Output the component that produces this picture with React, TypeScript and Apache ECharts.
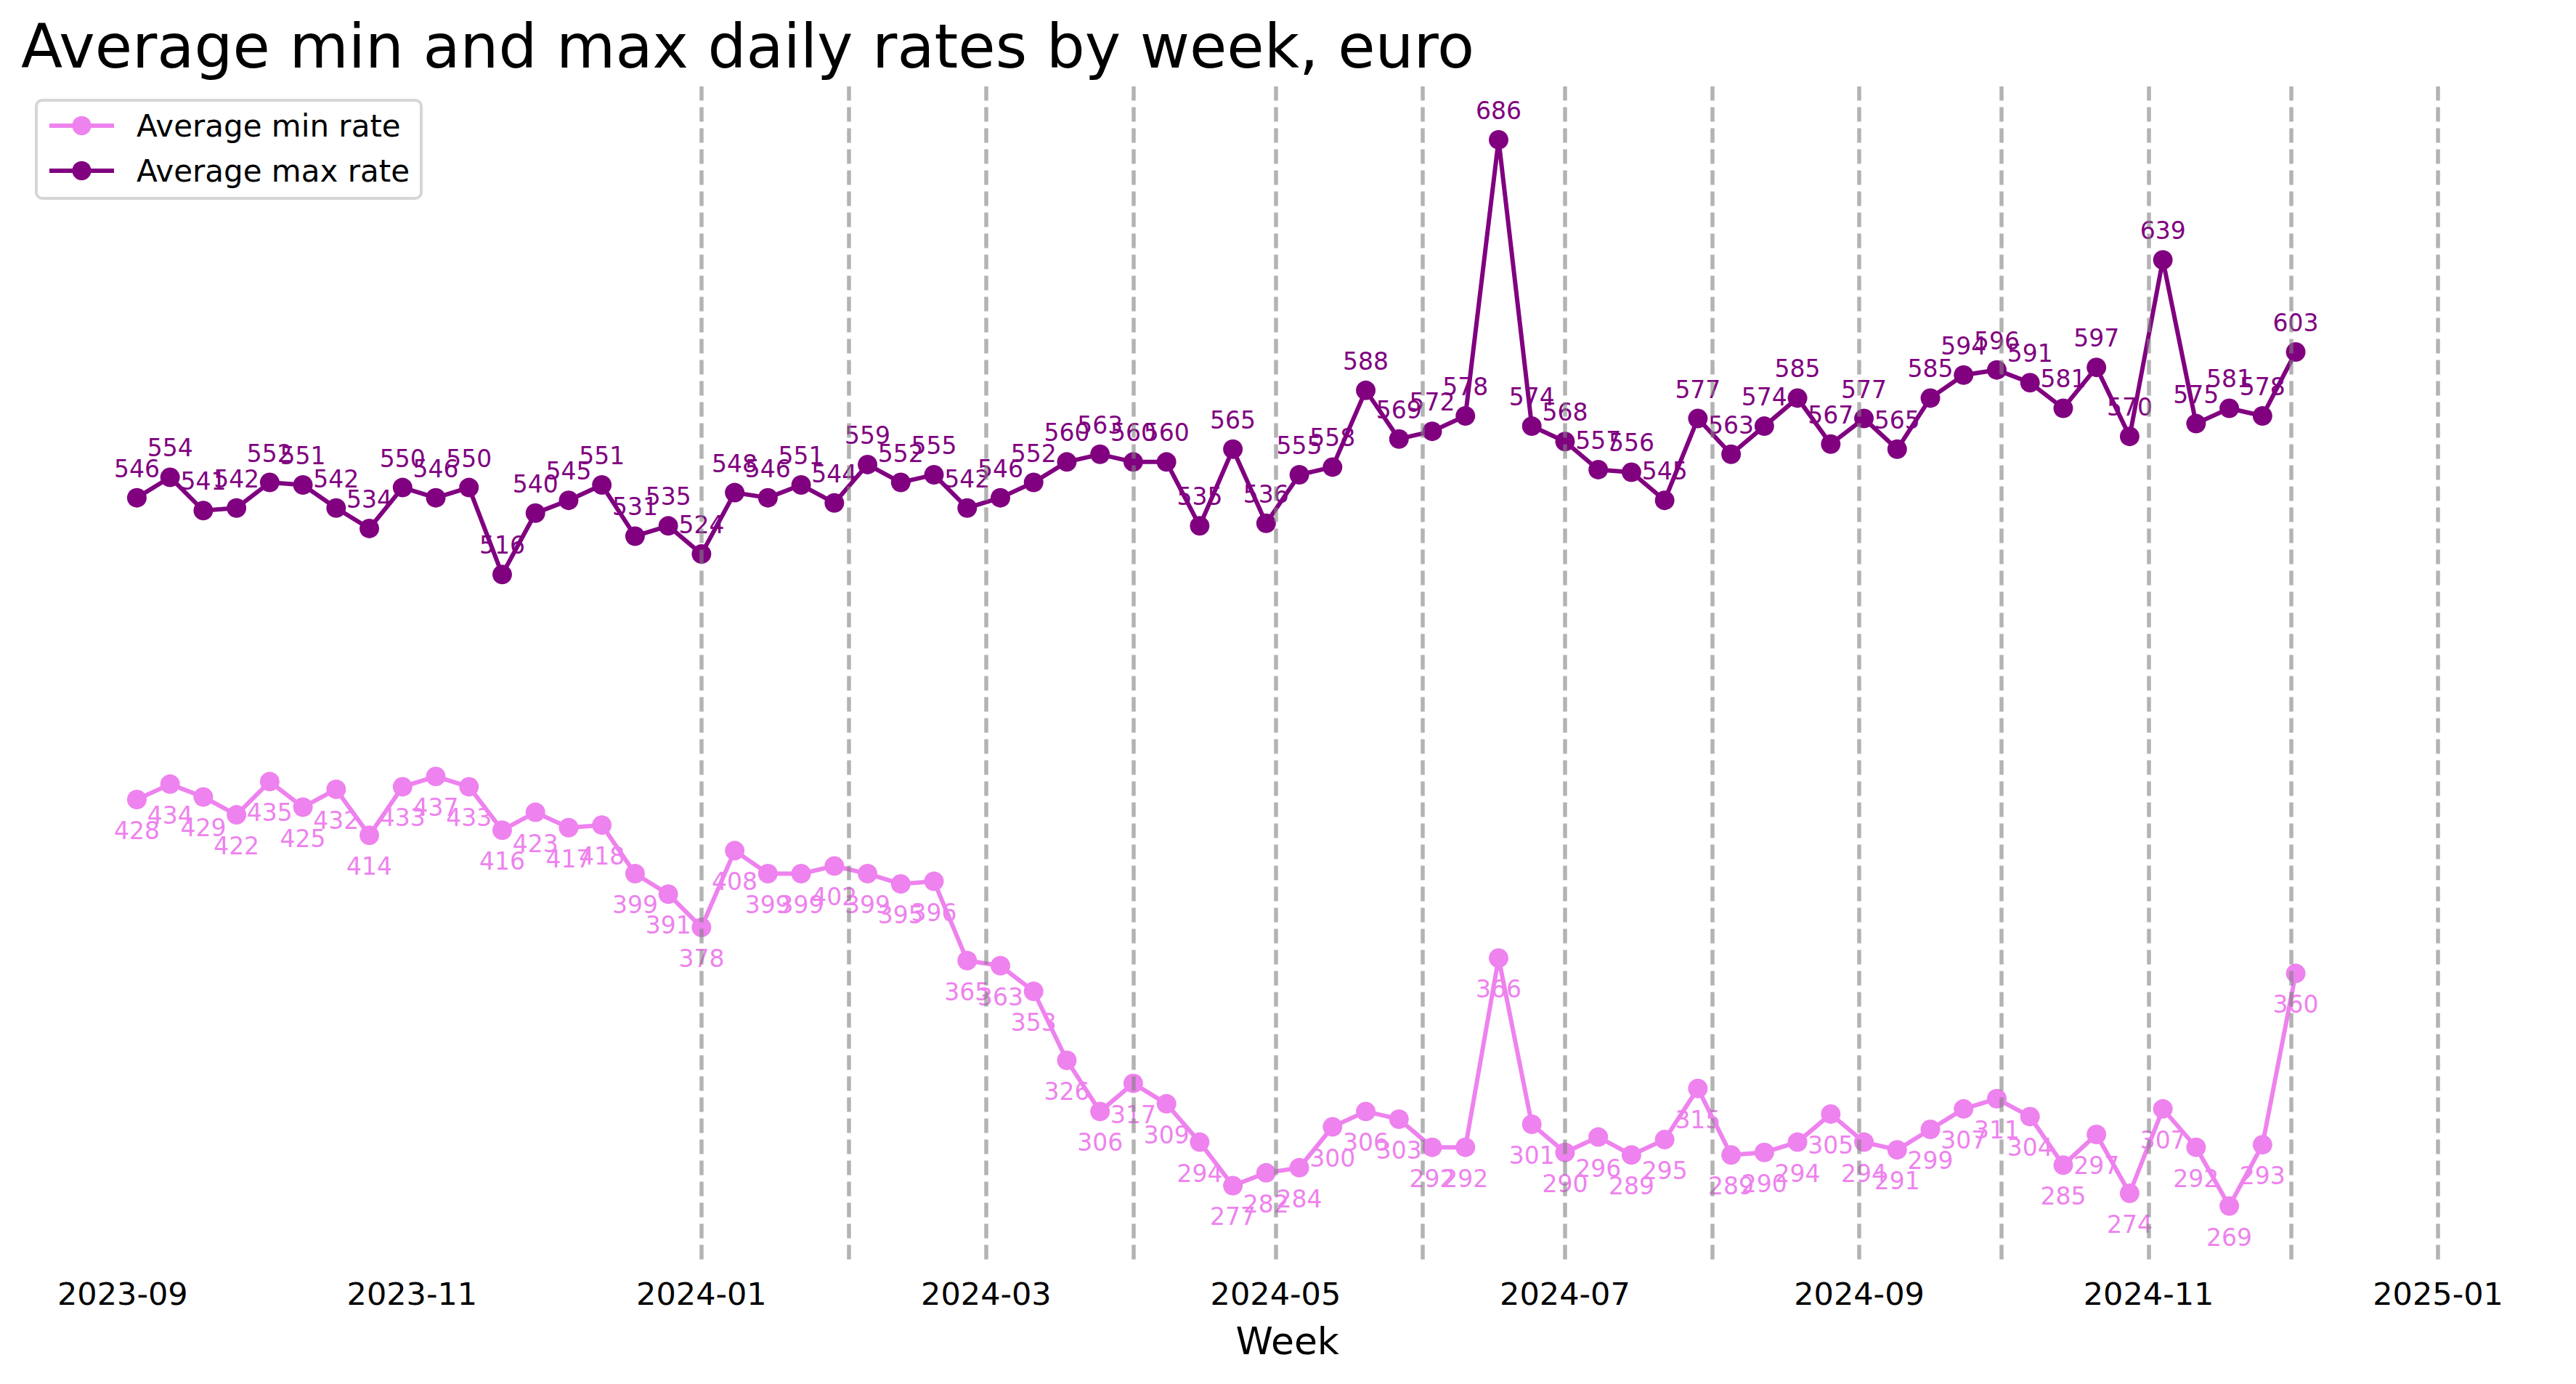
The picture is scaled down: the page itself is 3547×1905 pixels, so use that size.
import React, { useEffect, useRef } from "react";
import * as echarts from "echarts";

const weeks: string[] = [
  "2023-09-04", "2023-09-11", "2023-09-18", "2023-09-25", "2023-10-02", "2023-10-09", "2023-10-16", "2023-10-23", "2023-10-30",
  "2023-11-06", "2023-11-13", "2023-11-20", "2023-11-27", "2023-12-04", "2023-12-11", "2023-12-18", "2023-12-25",
  "2024-01-01", "2024-01-08", "2024-01-15", "2024-01-22", "2024-01-29", "2024-02-05", "2024-02-12", "2024-02-19", "2024-02-26",
  "2024-03-04", "2024-03-11", "2024-03-18", "2024-03-25", "2024-04-01", "2024-04-08", "2024-04-15", "2024-04-22", "2024-04-29",
  "2024-05-06", "2024-05-13", "2024-05-20", "2024-05-27", "2024-06-03", "2024-06-10", "2024-06-17", "2024-06-24",
  "2024-07-01", "2024-07-08", "2024-07-15", "2024-07-22", "2024-07-29", "2024-08-05", "2024-08-12", "2024-08-19", "2024-08-26",
  "2024-09-02", "2024-09-09", "2024-09-16", "2024-09-23", "2024-09-30", "2024-10-07", "2024-10-14", "2024-10-21", "2024-10-28",
  "2024-11-04", "2024-11-11", "2024-11-18", "2024-11-25", "2024-12-02",
];

const minRate: number[] = [
  428, 434, 429, 422, 435, 425, 432, 414, 433, 437, 433, 416, 423, 417, 418, 399, 391,
  378, 408, 399, 399, 402, 399, 395, 396, 365, 363, 353, 326, 306, 317, 309, 294, 277,
  282, 284, 300, 306, 303, 292, 292, 366, 301, 290, 296, 289, 295, 315, 289, 290, 294,
  305, 294, 291, 299, 307, 311, 304, 285, 297, 274, 307, 292, 269, 293, 360,
];

const maxRate: number[] = [
  546, 554, 541, 542, 552, 551, 542, 534, 550, 546, 550, 516, 540, 545, 551, 531, 535,
  524, 548, 546, 551, 544, 559, 552, 555, 542, 546, 552, 560, 563, 560, 560, 535, 565,
  536, 555, 558, 588, 569, 572, 578, 686, 574, 568, 557, 556, 545, 577, 563, 574, 585,
  567, 577, 565, 585, 594, 596, 591, 581, 597, 570, 639, 575, 581, 578, 603,
];

const monthLines: string[] = [
  "2024-01-01", "2024-02-01", "2024-03-01", "2024-04-01", "2024-05-01", "2024-06-01", "2024-07-01",
  "2024-08-01", "2024-09-01", "2024-10-01", "2024-11-01", "2024-12-01", "2025-01-01",
];

const tickDates: string[] = [
  "2023-09-01", "2023-11-01", "2024-01-01", "2024-03-01", "2024-05-01", "2024-07-01", "2024-09-01", "2024-11-01", "2025-01-01",
];

const xMin = "2023-08-10T18:00:00Z";
const xMax = "2025-01-25T06:00:00Z";
const yMin = 248.15;
const yMax = 706.85;

const utc = (s: string) => Date.parse(s.length === 10 ? s + "T00:00:00Z" : s);
const pad = (n: number) => (n < 10 ? "0" + n : "" + n);

export default function App() {
  const ref = useRef<HTMLDivElement>(null);
  useEffect(() => {
    if (!ref.current) return;
    const chart = echarts.init(ref.current, null, { renderer: "svg" });
    const font = "DejaVu Sans";
    const tickValues = tickDates.map(utc);
    const option: any = {
      animation: false,
      backgroundColor: "#ffffff",
      textStyle: { fontFamily: font },
      title: {
        text: "Average min and max daily rates by week, euro",
        left: 29,
        top: 22,
        padding: 0,
        textStyle: { fontSize: 83.5, fontWeight: "normal", color: "#000000", fontFamily: font },
      },
      legend: {
        orient: "vertical",
        left: 50,
        top: 138,
        padding: [14, 16, 17, 15],
        itemWidth: 89,
        itemHeight: 33,
        itemGap: 20,
        borderColor: "#d6d6d6",
        borderWidth: 4,
        borderRadius: 8,
        backgroundColor: "rgba(255,255,255,0.8)",
        lineStyle: { width: 6 },
        textStyle: { fontSize: 42, color: "#000000", fontFamily: font, padding: [0, 0, 0, 26] },
        data: ["Average min rate", "Average max rate"],
      },
      grid: { left: 30, right: 31.5, top: 119, bottom: 171.5, containLabel: false },
      xAxis: {
        type: "value",
        min: utc(xMin),
        max: utc(xMax),
        name: "Week",
        nameLocation: "middle",
        nameGap: 86,
        nameTextStyle: { fontSize: 52, color: "#000000", fontFamily: font },
        axisLine: { show: false },
        axisTick: { show: false },
        splitLine: { show: false },
        axisLabel: {
          customValues: tickValues,
          fontSize: 43,
          color: "#000000",
          fontFamily: font,
          margin: 26,
          hideOverlap: false,
          formatter: (v: number) => {
            const d = new Date(v);
            const m = d.getUTCMonth() + 1;
            if (d.getUTCDate() !== 1 || m % 2 === 0 || d.getUTCHours() !== 0) return "";
            return d.getUTCFullYear() + "-" + pad(m);
          },
        },
      },
      yAxis: {
        type: "value",
        min: yMin,
        max: yMax,
        show: false,
        splitLine: { show: false },
      },
      series: [
        {
          name: "Average min rate",
          type: "line",
          data: weeks.map((w, i) => [utc(w), minRate[i]]),
          symbol: "circle",
          symbolSize: 27,
          showAllSymbol: true,
          lineStyle: { width: 6, color: "#EE82EE" },
          itemStyle: { color: "#EE82EE" },
          emphasis: { disabled: true },
          label: {
            show: true,
            position: "inside",
            offset: [0, 43],
            fontSize: 33,
            color: "#EE82EE",
            fontFamily: font,
            formatter: (p: any) => String(p.value[1]),
          },
        },
        {
          name: "Average max rate",
          type: "line",
          data: weeks.map((w, i) => [utc(w), maxRate[i]]),
          symbol: "circle",
          symbolSize: 27,
          showAllSymbol: true,
          lineStyle: { width: 6, color: "#800080" },
          itemStyle: { color: "#800080" },
          emphasis: { disabled: true },
          label: {
            show: true,
            position: "inside",
            offset: [0, -40],
            fontSize: 33,
            color: "#800080",
            fontFamily: font,
            formatter: (p: any) => String(p.value[1]),
          },
          markLine: {
            silent: true,
            symbol: ["none", "none"],
            label: { show: false },
            emphasis: { disabled: true },
            lineStyle: { type: [20, 9], width: 5.5, color: "rgba(128,128,128,0.6)" },
            data: monthLines.map((m) => ({ xAxis: utc(m) })),
          },
        },
      ],
    };
    chart.setOption(option);
    return () => chart.dispose();
  }, []);
  return (
    <div
      ref={ref}
      style={{ position: "absolute", left: 0, top: 0, width: 3547, height: 1905 }}
    />
  );
}
